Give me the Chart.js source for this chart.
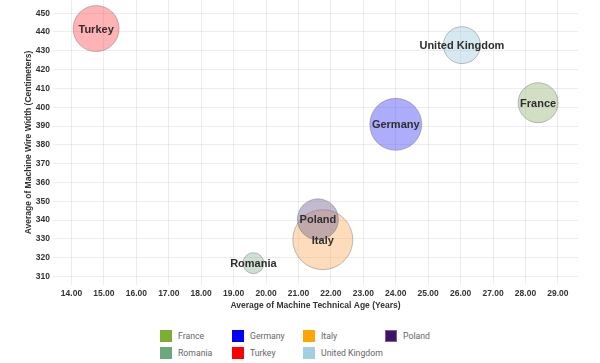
<!DOCTYPE html>
<html>
<head>
<meta charset="utf-8">
<script src="https://cdn.jsdelivr.net/npm/chart.js@4"></script>
<style>
  html, body { margin: 0; padding: 0; background: #fff; }
  #wrap { position: relative; width: 600px; height: 318px; }
  #legend {
    position: absolute; left: 160px; top: 330px;
    display: grid; grid-template-columns: 72px 71px 82px auto; row-gap: 5px;
    font-family: Roboto, "Liberation Sans", sans-serif; font-size: 8.7px; color: #666;
  }
  .item { display: flex; align-items: center; height: 12px; }
  .box { width: 12px; height: 12px; margin-right: 6px; box-sizing: border-box; }
</style>
</head>
<body>
<div id="wrap"><canvas id="chart"></canvas></div>
<div id="legend"></div>
<script>
const countries = ["France", "Germany", "Italy", "Poland", "Romania", "Turkey", "United Kingdom"];
const techAge = [28.39, 24.0, 21.75, 21.6, 19.61, 14.76, 26.04];
const wireWidth = [402.4, 390.9, 329.6, 340.4, 317.1, 441.8, 433.0];
const bubbleSize = [20, 26, 30, 20.5, 10.5, 23, 18.5];
const colors = ["#7cae32", "#0000ff", "#ffa500", "#3b1566", "#6aaa7a", "#ff0000", "#a6cee3"];
const xTicks = [14, 15, 16, 17, 18, 19, 20, 21, 22, 23, 24, 25, 26, 27, 28, 29];
const yTicks = [310, 320, 330, 340, 350, 360, 370, 380, 390, 400, 410, 420, 430, 440, 450];

// bubble fills are softer than the legend swatches
const fills = [
    "rgba(155, 184, 124, 0.45)",
    "rgba(73, 73, 248, 0.45)",
    "rgba(251, 178, 106, 0.45)",
    "rgba(120, 105, 150, 0.45)",
    "rgba(148, 186, 155, 0.45)",
    "rgba(255, 86, 91, 0.45)",
    "rgba(164, 204, 222, 0.45)"
];

// names drawn in the middle of each bubble
const bubbleLabels = {
    id: "bubbleLabels",
    afterDatasetsDraw(chart) {
        const ctx = chart.ctx;
        const meta = chart.getDatasetMeta(0);
        ctx.save();
        ctx.font = "bold 11px 'Liberation Sans', Arial, sans-serif";
        ctx.fillStyle = "#2e2e2e";
        ctx.textAlign = "center";
        ctx.textBaseline = "middle";
        meta.data.forEach((el, i) => {
            ctx.fillText(countries[i], el.x, el.y + 1);
        });
        ctx.restore();
    }
};

const tickFont = { family: "'Liberation Sans', Arial, sans-serif", size: 8.5, weight: "bold" };
const gridStyle = { color: "rgba(20, 20, 60, 0.08)", lineWidth: 1, drawTicks: false };

new Chart(document.getElementById("chart"), {
    type: "bubble",
    data: {
        datasets: [{
            data: countries.map((c, i) => ({ x: techAge[i], y: wireWidth[i], r: bubbleSize[i] })),
            backgroundColor: fills,
            borderColor: "rgba(60, 60, 60, 0.3)",
            borderWidth: 1,
            hoverBorderWidth: 1
        }]
    },
    options: {
        responsive: true,
        maintainAspectRatio: false,
        animation: false,
        layout: { autoPadding: false, padding: { left: 0, right: 22, top: 0, bottom: 0 } },
        plugins: { legend: { display: false }, tooltip: { enabled: false } },
        scales: {
            x: {
                type: "linear",
                min: 13.43,
                max: 29.62,
                afterBuildTicks: s => { s.ticks = xTicks.map(v => ({ value: v })); },
                afterFit: s => { s.height = 33; s.paddingLeft = 0; s.paddingRight = 0; },
                grid: gridStyle,
                border: { display: false },
                ticks: { font: tickFont, color: "#333", padding: 4, maxRotation: 0, callback: v => Number(v).toFixed(2) },
                title: {
                    display: true,
                    text: "Average of Machine Technical Age (Years)",
                    font: tickFont, color: "#333",
                    padding: { top: 0, bottom: 7 }
                }
            },
            y: {
                type: "linear",
                min: 305.5,
                max: 457,
                afterBuildTicks: s => { s.ticks = yTicks.map(v => ({ value: v })); },
                afterFit: s => { s.width = 53; s.paddingTop = 0; s.paddingBottom = 0; },
                grid: gridStyle,
                border: { display: false },
                ticks: { font: tickFont, color: "#333", padding: 3 },
                title: {
                    display: true,
                    text: "Average of Machine Wire Width (Centimeters)",
                    font: tickFont, color: "#333",
                    padding: { top: 24, bottom: 0 }
                }
            }
        }
    },
    plugins: [bubbleLabels]
});

// legend laid out in a grid, 4 per row
const legend = document.getElementById("legend");
countries.forEach((name, i) => {
    const item = document.createElement("div");
    item.className = "item";
    const box = document.createElement("span");
    box.className = "box";
    box.style.background = colors[i];
    if (name === "Poland") box.style.border = "1px solid #7a5aa0";
    item.appendChild(box);
    item.appendChild(document.createTextNode(name));
    legend.appendChild(item);
});
</script>
</body>
</html>
